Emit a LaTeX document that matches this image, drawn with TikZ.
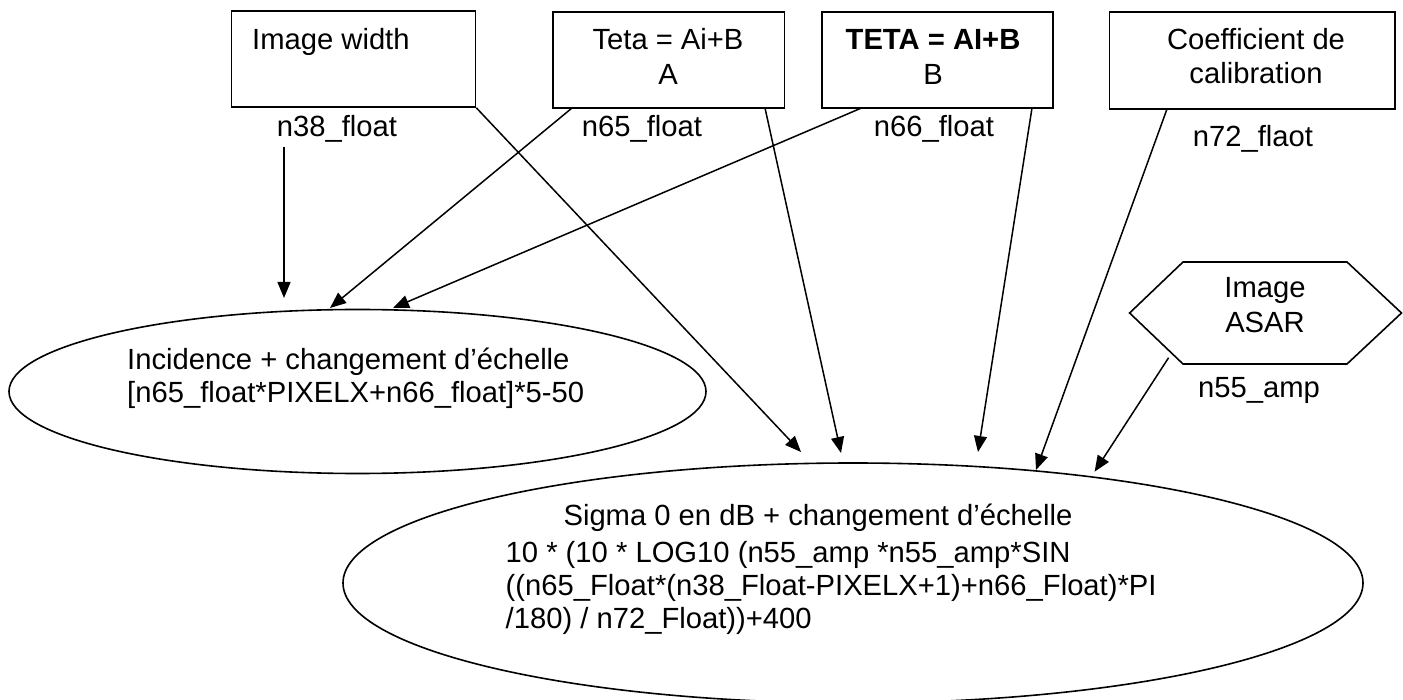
\documentclass[tikz,border=0pt]{standalone}
\usepackage{fontspec}
\setmainfont{Liberation Sans}
\usetikzlibrary{arrows.meta,shapes.geometric}
\begin{document}
\begin{tikzpicture}[x=1pt,y=-1pt,
  box/.style={draw, line width=1.6pt, inner sep=0pt},
  oval/.style={draw, ellipse, line width=1.6pt, inner sep=0pt},
  lbl/.style={font=\fontsize{29.2}{35}\selectfont, inner sep=0pt, anchor=base},
  blbl/.style={lbl, font=\fontsize{29.2}{35}\selectfont\bfseries},
  conn/.style={line width=1.5pt, -{Triangle[length=16pt,width=13pt]}},
  plain/.style={line width=1.6pt, line join=miter}]
\useasboundingbox (0,0) rectangle (1403,700);

% boxes
\node[box, minimum width=244pt, minimum height=96pt] (b1) at (353.5,59) {};
\node[box, minimum width=231.5pt, minimum height=96pt] (b2) at (668.75,60) {};
\node[box, minimum width=231pt, minimum height=96pt] (b3) at (937.5,60) {};
\node[box, minimum width=285.4pt, minimum height=97pt] (b4) at (1252.3,60.5) {};

\node[lbl, anchor=base west] (t1) at (252,49.5) {Image width};
\node[lbl] (t2a) at (668,50) {Teta = Ai+B};
\node[lbl] (t2b) at (668,84.5) {A};
\node[blbl] (t3a) at (933,50) {TETA = AI+B};
\node[lbl] (t3b) at (933,84.5) {B};
\node[lbl] (t4a) at (1256,49.5) {Coefficient de};
\node[lbl] (t4b) at (1256,84) {calibration};

% variable labels
\node[lbl] (v38) at (337,137) {n38\_float};
\node[lbl] (v65) at (642,137) {n65\_float};
\node[lbl] (v66) at (934,137) {n66\_float};
\node[lbl] (v72) at (1253,147) {n72\_flaot};

% hexagon
\coordinate (hexL) at (1129.6,313);
\coordinate (hexTL) at (1183,262);
\coordinate (hexTR) at (1347,262);
\coordinate (hexR) at (1401.5,313);
\coordinate (hexBR) at (1347,364);
\coordinate (hexBL) at (1183,364);
\draw[plain] (hexL) -- (hexTL) -- (hexTR) -- (hexR) -- (hexBR) -- (hexBL) -- cycle;
\node[lbl] (h1) at (1265,298) {Image};
\node[lbl] (h2) at (1265,332.5) {ASAR};
\node[lbl] (v55) at (1259,398) {n55\_amp};

% ellipses
\node[oval, minimum width=697pt, minimum height=164pt] (e1) at (357.5,391.5) {};
\node[lbl, anchor=base west] (e1a) at (127,370) {Incidence + changement d’échelle};
\node[lbl, anchor=base west] (e1b) at (127,402.5) {[n65\_float*PIXELX+n66\_float]*5-50};

\node[oval, minimum width=1020pt, minimum height=240pt] (e2) at (853,583) {};
\node[lbl] (e2a) at (818,525) {Sigma 0 en dB + changement d’échelle};
\node[lbl, anchor=base west] (e2b) at (505.5,562) {10 * (10 * LOG10 (n55\_amp *n55\_amp*SIN};
\node[lbl, anchor=base west] (e2c) at (505.5,595) {((n65\_Float*(n38\_Float-PIXELX+1)+n66\_Float)*PI};
\node[lbl, anchor=base west] (e2d) at (505.5,628) {/180) / n72\_Float))+400};

% connector end points
\coordinate (s38) at (284,147);
\coordinate (k38) at (284,298);
\coordinate (s65a) at (572,108);
\coordinate (k65a) at (330,308);
\coordinate (s66a) at (861.5,108);
\coordinate (k66a) at (393,308);
\coordinate (k38b) at (801,452);
\coordinate (s65b) at (765,108);
\coordinate (k65b) at (841,453);
\coordinate (s66b) at (1032,108);
\coordinate (k66b) at (978,452);
\coordinate (s72) at (1167,109);
\coordinate (k72) at (1036,470);
\coordinate (s55) at (1168.6,357.7);
\coordinate (k55) at (1094.6,471.7);

\draw[conn] (s38) -- (k38);
\draw[conn] (s65a) -- (k65a);
\draw[conn] (s66a) -- (k66a);
\draw[conn] (b1.south east) -- (k38b);
\draw[conn] (s65b) -- (k65b);
\draw[conn] (s66b) -- (k66b);
\draw[conn] (s72) -- (k72);
\draw[conn] (s55) -- (k55);
\end{tikzpicture}
\end{document}
